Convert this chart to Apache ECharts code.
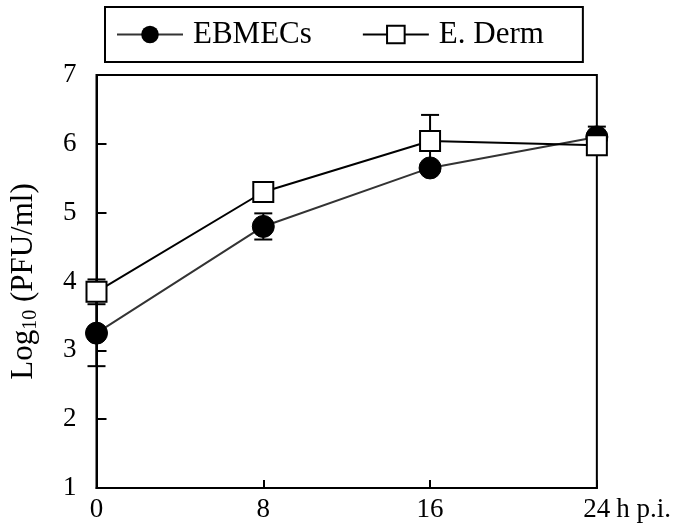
<!DOCTYPE html>
<html>
<head>
<meta charset="utf-8">
<script src="https://cdn.jsdelivr.net/npm/echarts@6/dist/echarts.min.js"></script>
<style>
  html, body { margin: 0; padding: 0; background: #fff; }
  #chart { width: 674px; height: 526px; }
</style>
</head>
<body>
<div id="chart"></div>
<script>
const hours = [0, 8, 16, 24]
const ebmecs = [3.25, 4.8, 5.65, 6.1]
const ebmecsErr = [0.48, 0.19, 0.05, 0.15]
const derm = [3.85, 5.3, 6.04, 5.98]
const dermErr = [0.18, 0.05, 0.38, 0.1]
const yTicks = [1, 2, 3, 4, 5, 6, 7]

const serif = 'Liberation Serif'

// error bar data: [x, low, high]
function errData(vals, errs) {
  return hours.map((h, i) => [h, vals[i] - errs[i], vals[i] + errs[i]])
}

function renderErr(params, api) {
  const x = api.value(0)
  const lo = api.coord([x, api.value(1)])
  const hi = api.coord([x, api.value(2)])
  const half = 9
  const style = { stroke: '#000', lineWidth: 2 }
  return {
    type: 'group',
    children: [
      { type: 'line', shape: { x1: lo[0], y1: lo[1], x2: hi[0], y2: hi[1] }, style: style },
      { type: 'line', shape: { x1: lo[0] - half, y1: lo[1], x2: lo[0] + half, y2: lo[1] }, style: style },
      { type: 'line', shape: { x1: hi[0] - half, y1: hi[1], x2: hi[0] + half, y2: hi[1] }, style: style }
    ]
  }
}

const chart = echarts.init(document.getElementById('chart'))
const option = {
  backgroundColor: '#fff',
  animation: false,
  textStyle: { fontFamily: serif, color: '#000' },
  legend: {
    data: ['EBMECs', 'E. Derm'],
    left: 105,
    top: 7,
    padding: [12, 39, 12, 11],
    itemGap: 50,
    itemWidth: 66,
    itemHeight: 22,
    borderColor: '#000',
    borderWidth: 2,
    textStyle: { fontFamily: serif, fontSize: 31, color: '#000', padding: [0, 0, 0, 5] }
  },
  grid: {
    left: 95, right: 74, top: 75, bottom: 38,
    show: true, borderColor: '#000', borderWidth: 2
  },
  xAxis: {
    type: 'value',
    min: 0, max: 24, interval: 8,
    name: 'h p.i.',
    nameLocation: 'end',
    nameGap: 16,
    nameTextStyle: { fontFamily: serif, fontSize: 27, color: '#000', verticalAlign: 'top', padding: [8, 0, 0, 0] },
    axisLine: { lineStyle: { color: '#000', width: 2 } },
    axisTick: { inside: true, length: 8, lineStyle: { color: '#000', width: 2 } },
    axisLabel: { fontFamily: serif, fontSize: 27, color: '#000', margin: 8 },
    splitLine: { show: false }
  },
  yAxis: {
    type: 'value',
    min: yTicks[0], max: yTicks[yTicks.length - 1], interval: 1,
    name: '{a|Log}{s|10}{a| (PFU/ml)}',
    nameLocation: 'middle',
    nameGap: 56,
    nameTextStyle: {
      rich: {
        a: { fontFamily: serif, fontSize: 31, color: '#000' },
        s: { fontFamily: serif, fontSize: 20, color: '#000', verticalAlign: 'bottom', padding: [14, 0, 0, 0] }
      }
    },
    axisLine: { lineStyle: { color: '#000', width: 2 } },
    axisTick: { inside: true, length: 10, lineStyle: { color: '#000', width: 2 } },
    axisLabel: { fontFamily: serif, fontSize: 27, color: '#000', margin: 20 },
    splitLine: { show: false }
  },
  series: [
    {
      name: 'errE', type: 'custom', renderItem: renderErr,
      data: errData(ebmecs, ebmecsErr), encode: { x: 0, y: [1, 2] }, z: 1, silent: true
    },
    {
      name: 'errD', type: 'custom', renderItem: renderErr,
      data: errData(derm, dermErr), encode: { x: 0, y: [1, 2] }, z: 1, silent: true
    },
    {
      name: 'EBMECs', type: 'line',
      data: hours.map((h, i) => [h, ebmecs[i]]),
      symbol: 'circle', symbolSize: 22,
      lineStyle: { color: '#333', width: 2 },
      itemStyle: { color: '#000', borderColor: '#000' },
      z: 3
    },
    {
      name: 'E. Derm', type: 'line',
      data: hours.map((h, i) => [h, derm[i]]),
      symbol: 'rect', symbolSize: 20,
      lineStyle: { color: '#000', width: 2 },
      itemStyle: { color: '#fff', borderColor: '#000', borderWidth: 2 },
      z: 4
    }
  ]
}
chart.setOption(option)
</script>
</body>
</html>
